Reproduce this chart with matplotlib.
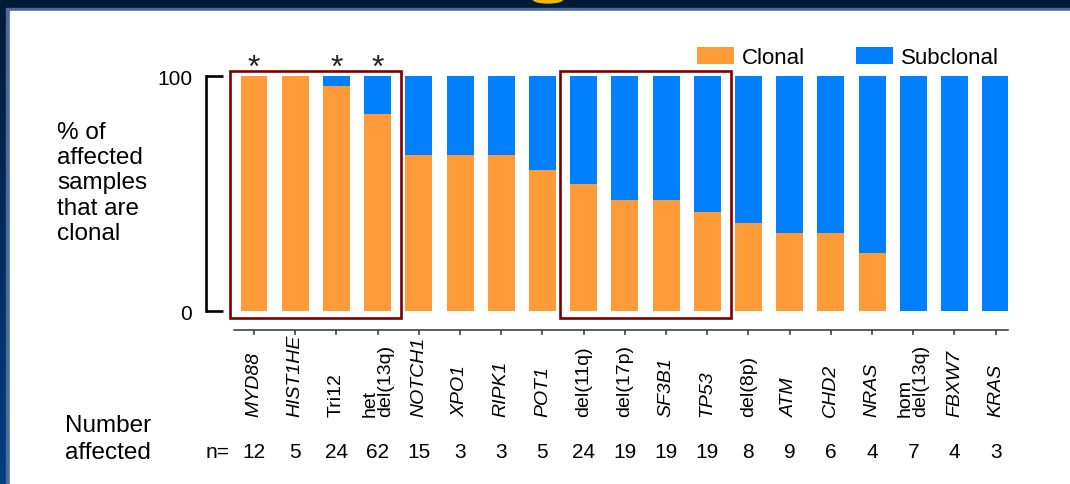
import numpy as np
import matplotlib
matplotlib.use('Agg')
import matplotlib.pyplot as plt
import matplotlib.transforms as mtransforms
from matplotlib.patches import Rectangle, Ellipse
from matplotlib.colors import LinearSegmentedColormap

plt.rcParams['font.family'] = ['Liberation Sans', 'DejaVu Sans']

# lesions, number of affected samples and % of them that are clonal
labels = ['MYD88', 'HIST1HE', 'Tri12', 'het\ndel(13q)', 'NOTCH1', 'XPO1', 'RIPK1',
          'POT1', 'del(11q)', 'del(17p)', 'SF3B1', 'TP53', 'del(8p)', 'ATM', 'CHD2',
          'NRAS', 'hom\ndel(13q)', 'FBXW7', 'KRAS']
n_affected = [12, 5, 24, 62, 15, 3, 3, 5, 24, 19, 19, 19, 8, 9, 6, 4, 7, 4, 3]
clonal_pct = [100, 100, 95.8, 83.9, 66.7, 66.7, 66.7, 60, 54.2, 47.4, 47.4, 42.1,
              37.5, 33.3, 33.3, 25, 0, 0, 0]
starred = ['MYD88', 'Tri12', 'het\ndel(13q)']
boxed = [(0, 3), (8, 11)]

clonal = np.array(clonal_pct)
subclonal = 100 - clonal
x = np.arange(len(labels))

W, H = 1070, 485
fig = plt.figure(figsize=(W / 100, H / 100), dpi=100)

# slide frame behind the chart
bg = fig.add_axes([0, 0, 1, 1], zorder=-10)
bg.set_xlim(0, W)
bg.set_ylim(H, 0)
bg.axis('off')
frame_cmap = LinearSegmentedColormap.from_list('frame', ['#011a38', '#023d7e'])
bg.imshow(np.linspace(0, 1, 100).reshape(-1, 1), cmap=frame_cmap,
          extent=[0, W, H, 0], aspect='auto')
bg.add_patch(Rectangle((6, 9), W, H, color='#4a6b9c'))
bg.add_patch(Rectangle((10, 12), W, H, color='white'))
bg.add_patch(Ellipse((548, 0), 30, 8, color='#f2b705'))

ax = fig.add_axes([206 / W, (H - 331) / H, 802 / W, 271 / H])
ax.patch.set_alpha(0)
w = 0.655
ax.bar(x, clonal, w, color='#ff9a38', label='Clonal')
ax.bar(x, subclonal, w, bottom=clonal, color='#0080ff', label='Subclonal')
ax.set_xlim(-1.165, 18.3)
ax.set_ylim(-7.96, 107.4)

for s in ['top', 'right']:
    ax.spines[s].set_visible(False)
ax.spines['left'].set_bounds(0, 100)
ax.spines['left'].set_linewidth(1.9)
ax.spines['bottom'].set_bounds(-0.485, 18.3)
ax.spines['bottom'].set_linewidth(1.1)
ax.spines['bottom'].set_color('#333333')
ax.set_yticks([0, 100])
ax.tick_params(axis='y', direction='in', length=12.2, width=1.9, pad=10, labelsize=15)
ax.set_xticks(x)
ax.tick_params(axis='x', direction='out', length=3.6, width=1.1, color='#333333',
               labelbottom=False)

# boxes around groups of lesions
pad = 0.25
for a, b in boxed:
    ax.add_patch(Rectangle((a - w / 2 - pad, -2.85), (b - a) + w + 2 * pad, 105.25,
                           fill=False, ec='#7d0000', lw=1.9, clip_on=False))

for lab in starred:
    ax.text(labels.index(lab), 100, '*', ha='center', va='baseline', fontsize=23,
            color='#222222', clip_on=False)

ax.legend(ncol=2, frameon=False, fontsize=16, handlelength=1.67, handleheight=0.77,
          handletextpad=0.36, columnspacing=2.3, borderpad=0, borderaxespad=0,
          loc='center left', bbox_to_anchor=(697 / W, 1 - 58.5 / H),
          bbox_transform=fig.transFigure)

# rotated lesion names and counts under the bars
trans = mtransforms.blended_transform_factory(ax.transData, fig.transFigure)
for i, lab in enumerate(labels):
    italic = not lab.startswith(('del', 'het', 'hom', 'Tri'))
    ax.text(i, 1 - 417 / H, lab, transform=trans, rotation=90, ha='center',
            va='bottom', fontsize=14, style='italic' if italic else 'normal',
            linespacing=0.88, multialignment='left')
    ax.text(i, 1 - 452.6 / H, str(n_affected[i]), transform=trans, ha='center',
            va='center', fontsize=15)

fig.text(229 / W, 1 - 452.6 / H, 'n=', ha='right', va='center', fontsize=15)
fig.text(57 / W, 1 - 183.5 / H, '% of\naffected\nsamples\nthat are\nclonal',
         ha='left', va='center', fontsize=17.5, linespacing=1.2)
fig.text(65 / W, 1 - 439.5 / H, 'Number\naffected', ha='left', va='center',
         fontsize=17.5, linespacing=1.25)

fig.savefig('out.png', dpi=100)
